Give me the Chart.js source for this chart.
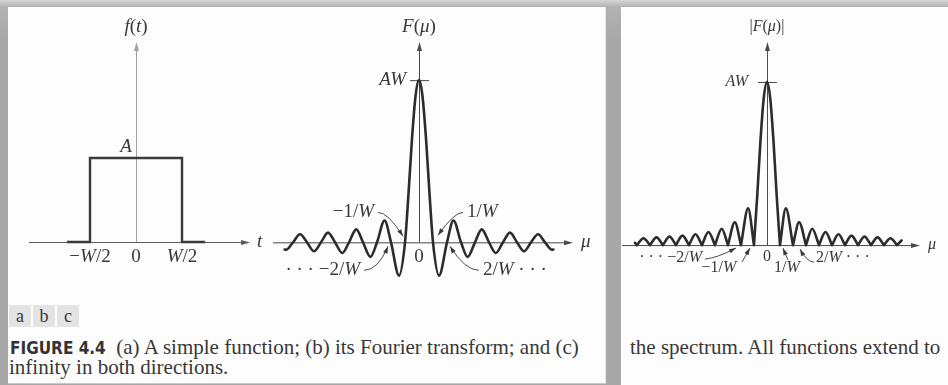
<!DOCTYPE html>
<html>
<head>
<meta charset="utf-8">
<script src="https://cdn.jsdelivr.net/npm/chart.js@4.4.1/dist/chart.umd.min.js"></script>
<style>
  body {
    margin: 0; width: 948px; height: 385px; overflow: hidden; position: relative;
    background: linear-gradient(#d6d6d6, #b2b2b2 7px, #a8a8a8 40px);
    font-family: "Liberation Serif", "DejaVu Serif", serif; color: #383838;
  }
  .sheet { position: absolute; background: #fdfdfd; }
  #sheetLeft { left: 8px; top: 7px; width: 597px; height: 376px; border-right: 1px solid #e6e6e6; border-bottom: 1px solid #c8c8c8; }
  #sheetRight { left: 621px; top: 7px; width: 327px; height: 378px; }
  canvas { position: absolute; }
  .panels { position: absolute; left: 9px; top: 305px; display: flex; gap: 2px; }
  .panels span { width: 22px; height: 22px; line-height: 22px; text-align: center; font-size: 18px; background: #e4e4e4; }
  .caption { position: absolute; font-size: 21px; white-space: nowrap; line-height: 21px; }
  .fig { font-family: "Liberation Sans Narrow", "DejaVu Sans Condensed", "Liberation Sans", sans-serif; font-stretch: condensed; font-weight: bold; font-size: 17px; color: #333; }
</style>
</head>
<body>
<div class="sheet" id="sheetLeft"></div>
<div class="sheet" id="sheetRight"></div>

<canvas id="pulse" width="255" height="290" style="left:10px;top:5px"></canvas>
<canvas id="transform" width="335" height="290" style="left:265px;top:5px"></canvas>
<canvas id="spectrum" width="338" height="290" style="left:610px;top:5px"></canvas>

<div class="panels"><span>a</span><span>b</span><span>c</span></div>
<div class="caption" style="left:10px;top:337px"><span class="fig">FIGURE 4.4</span>&nbsp; (a) A simple function; (b) its Fourier transform; and (c)</div>
<div class="caption" style="left:9px;top:357px">infinity in both directions.</div>
<div class="caption" style="left:630px;top:337px">the spectrum. All functions extend to</div>

<script>
// (a) box function, t in units of W, amplitude in units of A
const pulseT = [-0.75, -0.5, -0.5, 0.5, 0.5, 0.75];
const pulseF = [0, 0, 1, 1, 0, 0];
const pulseTicks = [-0.5, 0, 0.5];
const pulseTickLabels = ['−W/2', '0', 'W/2'];

// (b) its transform, mu in units of 1/W, value in units of AW
const transformMu = [-9.6, -9.5, -9, -8.5, -8, -7.5, -7, -6.5, -6, -5.48, -5, -4.48, -4, -3.47, -3, -2.46, -2, -1.43, -1,
  -0.75, -0.5, -0.25, 0, 0.25, 0.5, 0.75,
  1, 1.43, 2, 2.46, 3, 3.47, 4, 4.48, 5, 5.48, 6, 6.5, 7, 7.5, 8, 8.5, 9, 9.5, 9.6];
const transformF = [-0.044, -0.046, 0, 0.05, 0, -0.055, 0, 0.06, 0, -0.066, 0, 0.08, 0, -0.09, 0, 0.135, 0, -0.205, 0,
  0.3, 0.64, 0.9, 1, 0.9, 0.64, 0.3,
  0, -0.205, 0, 0.135, 0, -0.09, 0, 0.08, 0, -0.066, 0, 0.06, 0, -0.055, 0, 0.05, 0, -0.046, -0.044];
const transformTicks = [0];
const transformTickLabels = ['0'];

// (c) spectrum |F(mu)|; a repeated mu marks a zero where two lobes meet
const spectrumMu = [-10.15, -10, -10, -9.5, -9, -9, -8.5, -8, -8, -7.5, -7, -7, -6.5, -6, -6, -5.5, -5, -5, -4.5, -4, -4,
  -3.48, -3, -3, -2.47, -2, -2, -1.45, -1, -1, -0.75, -0.5, -0.25, 0, 0.25, 0.5, 0.75, 1, 1, 1.45, 2, 2, 2.47, 3, 3,
  3.48, 4, 4, 4.5, 5, 5, 5.5, 6, 6, 6.5, 7, 7, 7.5, 8, 8, 8.5, 9, 9, 9.5, 10, 10, 10.35];
const spectrumMag = [0.014, 0, 0, 0.042, 0, 0, 0.047, 0, 0, 0.052, 0, 0, 0.058, 0, 0, 0.066, 0, 0, 0.08, 0, 0,
  0.1, 0, 0, 0.14, 0, 0, 0.225, 0, 0, 0.3, 0.64, 0.9, 1, 0.9, 0.64, 0.3, 0, 0, 0.225, 0, 0, 0.14, 0, 0,
  0.1, 0, 0, 0.08, 0, 0, 0.066, 0, 0, 0.058, 0, 0, 0.052, 0, 0, 0.047, 0, 0, 0.042, 0, 0, 0.028];
const spectrumTicks = [0];
const spectrumTickLabels = ['0'];

// arrowed labels on the frequency axis
const zeroMarks = [-2, -1, 1, 2];
const transformMarkLabels = ['· · · −2/W', '−1/W', '1/W', '2/W · · ·'];
const spectrumMarkLabels = ['· · · −2/W', '−1/W', '1/W', '2/W · · ·'];

const INK = '#2c2c2c';
const TEXT = '#383838';

// letters in italic, digits and signs upright
function drawMath(ctx, text, x, y, align, size) {
  const runs = text.match(/[A-Za-zμ]+|[^A-Za-zμ]+/g);
  const fontFor = r => (/[A-Za-zμ]/.test(r) ? 'italic ' : '') + size + 'px "Liberation Serif", serif';
  let width = 0;
  runs.forEach(r => { ctx.font = fontFor(r); width += ctx.measureText(r).width; });
  let cx = align === 'right' ? x - width : align === 'center' ? x - width / 2 : x;
  ctx.textAlign = 'left';
  ctx.textBaseline = 'middle';
  ctx.fillStyle = TEXT;
  runs.forEach(r => {
    ctx.font = fontFor(r);
    ctx.fillText(r, cx, y);
    cx += ctx.measureText(r).width;
  });
}

function arrowHead(ctx, fromX, fromY, tipX, tipY, len, half) {
  const a = Math.atan2(tipY - fromY, tipX - fromX);
  ctx.beginPath();
  ctx.moveTo(tipX, tipY);
  ctx.lineTo(tipX - len * Math.cos(a) + half * Math.sin(a), tipY - len * Math.sin(a) - half * Math.cos(a));
  ctx.lineTo(tipX - len * Math.cos(a) - half * Math.sin(a), tipY - len * Math.sin(a) + half * Math.cos(a));
  ctx.closePath();
  ctx.fill();
}

const figurePlugin = {
  id: 'figure',
  beforeDatasetsDraw(chart, args, o) {
    const { ctx, chartArea: a, scales: { x, y } } = chart;
    const x0 = x.getPixelForValue(0);
    const y0 = y.getPixelForValue(0);
    ctx.save();
    ctx.lineWidth = 1;
    // horizontal axis
    ctx.strokeStyle = o.hColor;
    ctx.fillStyle = o.hColor;
    ctx.beginPath();
    ctx.moveTo(a.left, y0 + 0.5);
    ctx.lineTo(a.right - 4, y0 + 0.5);
    ctx.stroke();
    arrowHead(ctx, a.left, y0 + 0.5, a.right, y0 + 0.5, 9, 2.5);
    // vertical axis
    ctx.strokeStyle = o.vColor;
    ctx.fillStyle = o.vColor;
    ctx.beginPath();
    ctx.moveTo(x0 + 0.5, y0);
    ctx.lineTo(x0 + 0.5, a.top + 4);
    ctx.stroke();
    arrowHead(ctx, x0 + 0.5, y0, x0 + 0.5, a.top, 9, 2.5);
    if (o.peak && o.peak.tick) {
      const yp = y.getPixelForValue(o.peak.value);
      ctx.strokeStyle = o.hColor;
      ctx.beginPath();
      ctx.moveTo(x0 - 9, yp + 0.5);
      ctx.lineTo(x0 + 10, yp + 0.5);
      ctx.stroke();
    }
    ctx.restore();
  },
  afterDatasetsDraw(chart, args, o) {
    const { ctx, chartArea: a, scales: { x, y } } = chart;
    const x0 = x.getPixelForValue(0);
    const y0 = y.getPixelForValue(0);
    const size = o.fontSize;
    ctx.save();
    drawMath(ctx, o.yTitle, x0, a.top - 15, 'center', size);
    drawMath(ctx, o.xTitle, a.right + o.xTitleGap, y0, 'left', size);
    o.ticks.forEach((v, i) => drawMath(ctx, o.tickLabels[i], x.getPixelForValue(v), y0 + o.tickGap, 'center', size));
    if (o.peak) {
      drawMath(ctx, o.peak.text, x0 + o.peak.dx, y.getPixelForValue(o.peak.value) + o.peak.dy, o.peak.align, size);
    }
    // leader lines from the labels to the zeros
    (o.marks || []).forEach((v, i) => {
      const m = o.markLayout[i];
      const px = x.getPixelForValue(v);
      drawMath(ctx, o.markLabels[i], px + m.tx, y0 + m.ty, m.align, size);
      const pts = m.path.map(p => [px + p[0], y0 + p[1]]);
      ctx.strokeStyle = TEXT;
      ctx.fillStyle = TEXT;
      ctx.lineWidth = 0.9;
      ctx.beginPath();
      ctx.moveTo(pts[0][0], pts[0][1]);
      if (pts.length === 3) ctx.quadraticCurveTo(pts[1][0], pts[1][1], pts[2][0], pts[2][1]);
      else ctx.lineTo(pts[1][0], pts[1][1]);
      ctx.stroke();
      const prev = pts[pts.length - 2];
      const tip = pts[pts.length - 1];
      arrowHead(ctx, prev[0], prev[1], tip[0], tip[1], 7, 2.3);
    });
    ctx.restore();
  }
};

function makeChart(id, datasets, xRange, yRange, padding, figure) {
  return new Chart(document.getElementById(id), {
    type: 'line',
    data: { datasets },
    options: {
      responsive: false,
      animation: false,
      devicePixelRatio: 1,
      events: [],
      layout: { padding },
      scales: {
        x: { type: 'linear', display: false, min: xRange[0], max: xRange[1] },
        y: { type: 'linear', display: false, min: yRange[0], max: yRange[1] }
      },
      elements: { point: { radius: 0 } },
      plugins: { legend: { display: false }, tooltip: { enabled: false }, figure }
    },
    plugins: [figurePlugin]
  });
}

const toPoints = (xs, ys) => xs.map((v, i) => ({ x: v, y: ys[i] }));

// split the magnitude into separate lobes so the zeros stay sharp
const spectrumPoints = [];
spectrumMu.forEach((m, i) => {
  if (i > 0 && m === spectrumMu[i - 1]) spectrumPoints.push({ x: m, y: null });
  spectrumPoints.push({ x: m, y: spectrumMag[i] });
});

makeChart('pulse', [{
  data: toPoints(pulseT, pulseF),
  borderColor: '#3a3a3a', borderWidth: 2.4, tension: 0, clip: false,
  borderJoinStyle: 'miter', borderCapStyle: 'butt'
}], [-1.163, 1.239], [0, 2.38], { left: 19, right: 15, top: 37, bottom: 53 }, {
  fontSize: 19, hColor: '#5a5a5a', vColor: '#a0a0a0',
  yTitle: 'f(t)', xTitle: 't', xTitleGap: 7, tickGap: 15,
  ticks: pulseTicks, tickLabels: pulseTickLabels,
  peak: { value: 1, text: 'A', dx: -10, dy: -11, align: 'center', tick: false }
});

makeChart('transform', [{
  data: toPoints(transformMu, transformF),
  borderColor: INK, borderWidth: 2.6, cubicInterpolationMode: 'monotone', clip: false,
  borderCapStyle: 'round'
}], [-10.43, 11.0], [-0.3, 1.235], { left: 8, right: 27, top: 37, bottom: 4 }, {
  fontSize: 19, hColor: '#4a4a4a', vColor: '#4a4a4a',
  yTitle: 'F(μ)', xTitle: 'μ', xTitleGap: 8, tickGap: 15,
  ticks: transformTicks, tickLabels: transformTickLabels,
  peak: { value: 1, text: 'AW', dx: -13, dy: 0, align: 'right', tick: true },
  marks: zeroMarks, markLabels: transformMarkLabels,
  markLayout: [
    { tx: -31, ty: 28, align: 'right', path: [[-27, 28], [-13, 28], [-3, 4]] },
    { tx: -31, ty: -30, align: 'right', path: [[-27, -30], [-17, -30], [-2, -6]] },
    { tx: 34, ty: -30, align: 'left', path: [[30, -30], [21, -30], [5, -7]] },
    { tx: 36, ty: 28, align: 'left', path: [[32, 28], [18, 28], [3, 4]] }
  ]
});

makeChart('spectrum', [{
  data: spectrumPoints,
  borderColor: INK, borderWidth: 2.6, cubicInterpolationMode: 'monotone', clip: false,
  spanGaps: false, borderCapStyle: 'round'
}], [-11.15, 11.77], [-0.3, 1.245], { left: 12, right: 28, top: 37, bottom: 1 }, {
  fontSize: 16, hColor: '#4a4a4a', vColor: '#4a4a4a',
  yTitle: '|F(μ)|', xTitle: 'μ', xTitleGap: 8, tickGap: 12,
  ticks: spectrumTicks, tickLabels: spectrumTickLabels,
  peak: { value: 1, text: 'AW', dx: -19, dy: 0, align: 'right', tick: true },
  marks: zeroMarks, markLabels: spectrumMarkLabels,
  markLayout: [
    { tx: -39, ty: 13, align: 'right', path: [[-36, 14], [-24, 13], [-5, 3]] },
    { tx: -35, ty: 23, align: 'center', path: [[-12, 17], [-4, 3]] },
    { tx: 7, ty: 23, align: 'center', path: [[8, 15], [3, 3]] },
    { tx: 23, ty: 13, align: 'left', path: [[21, 17], [14, 17], [7, 4]] }
  ]
});
</script>
</body>
</html>
